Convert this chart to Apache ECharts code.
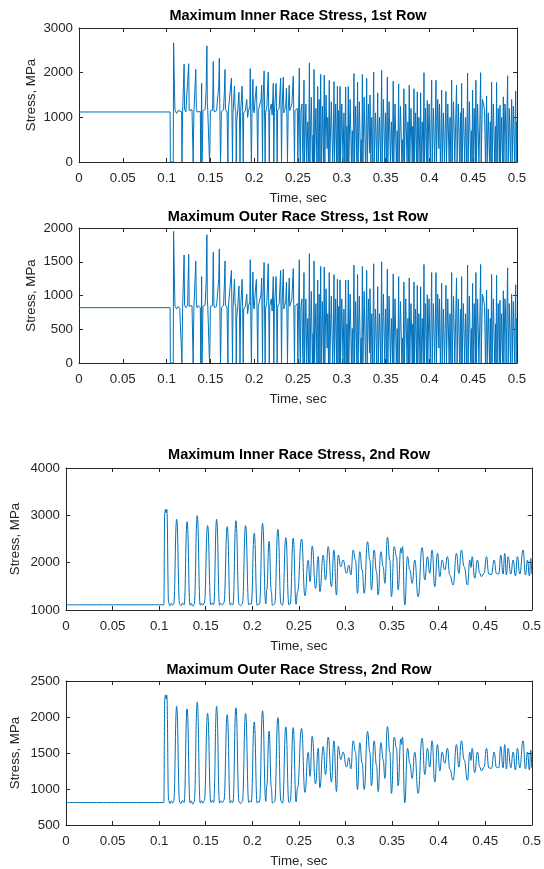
<!DOCTYPE html>
<html>
<head>
<meta charset="utf-8">
<script src="https://cdn.jsdelivr.net/npm/echarts@6/dist/echarts.min.js"></script>
<style>
  html, body { margin: 0; padding: 0; background: #ffffff; }
  #chart { width: 544px; height: 869px; }
</style>
</head>
<body>
<div id="chart"></div>
<script>
// Panel titles and axis ranges
const panelTitles = [
  'Maximum Inner Race Stress, 1st Row',
  'Maximum Outer Race Stress, 1st Row',
  'Maximum Inner Race Stress, 2nd Row',
  'Maximum Outer Race Stress, 2nd Row'
];
const yRanges = [[0, 3000, 1000], [0, 2000, 500], [1000, 4000, 1000], [500, 2500, 500]];
const timeRange = [0, 0.5, 0.05];

// 1st row, inner race: [time s, stress MPa]
const row1Inner = [
  [0,1120],[0.1040,1120],[0.1043,0],[0.1076,0],[0.1080,2670],[0.1084,2250],[0.1090,1600],[0.1096,1150],
  [0.1105,1180],[0.1115,1090],[0.1130,1150],[0.1150,1110],[0.1172,1130],[0.1175,0],[0.1180,0],[0.1183,1130],
  [0.1195,1150],[0.1200,2190],[0.1205,1180],[0.1220,1120],[0.1240,1160],[0.1252,2200],[0.1258,1150],[0.1275,1130],
  [0.1290,1170],[0.1300,1140],[0.1303,0],[0.1308,0],[0.1312,1120],[0.1322,1150],[0.1333,2070],[0.1340,1200],
  [0.1348,1120],[0.1360,1160],[0.1385,1130],[0.1390,0],[0.1395,600],[0.1400,1760],[0.1404,0],[0.1410,500],
  [0.1415,1150],[0.1440,1180],[0.1452,1650],[0.1460,2600],[0.1465,1300],[0.1470,1150],[0.1485,1120],[0.1490,0],
  [0.1495,400],[0.1500,1150],[0.1525,1160],[0.1533,2250],[0.1540,1200],[0.1545,1120],[0.1570,1150],[0.1590,1140],
  [0.1595,1700],[0.1602,2320],[0.1608,1150],[0.1615,0],[0.1620,350],[0.1625,1130],[0.1650,1170],[0.1660,1600],
  [0.1667,2070],[0.1672,1180],[0.1690,1120],[0.1700,0],[0.1705,1140],[0.1725,1160],[0.1740,1880],[0.1745,1200],
  [0.1752,0],[0.1758,1100],[0.1775,1700],[0.1782,1200],[0.1790,1130],[0.1795,0],[0.1800,900],[0.1812,1150],
  [0.1826,1560],[0.1832,1000],[0.1838,0],[0.1845,1100],[0.1862,1700],[0.1868,1150],[0.1875,0],[0.1880,1100],
  [0.1900,1150],[0.1915,1400],[0.1925,1000],[0.1935,1150],[0.1950,1250],[0.1955,2090],[0.1962,800],[0.1968,0],
  [0.1975,1100],[0.1985,1850],[0.1992,1150],[0.2000,1100],[0.2010,1400],[0.2025,1700],[0.2032,1100],[0.2040,0],
  [0.2047,1150],[0.2065,1150],[0.2078,1400],[0.2085,1720],[0.2090,1000],[0.2095,0],[0.2100,1300],[0.2113,2040],
  [0.2118,1200],[0.2125,0],[0.2130,1100],[0.2145,1250],[0.2160,2010],[0.2166,1100],[0.2172,0],[0.2178,1150],
  [0.2195,1300],[0.2205,1050],[0.2218,1760],[0.2224,0],[0.2230,1100],[0.2250,1760],[0.2256,1100],[0.2262,0],
  [0.2268,1150],[0.2285,1200],[0.2302,1880],[0.2307,1000],[0.2312,0],[0.2318,1150],[0.2332,1900],[0.2338,1100],
  [0.2345,1150],[0.2360,1250],[0.2368,1650],[0.2374,900],[0.2380,0],[0.2388,1150],[0.2400,1720],[0.2406,1150],
  [0.2420,1130],[0.2430,1300],[0.2446,1920],[0.2452,1100],[0.2460,0],[0.2466,1150],[0.2480,1140],[0.2492,1200],
  [0.2498,0],[0.2504,800],[0.2515,2100],[0.2520,500],[0.2526,0],[0.2534,1150],[0.2545,1300],[0.2552,300],[0.2558,0],
  [0.2568,1830],[0.2574,0],[0.2590,1300],[0.2600,0],[0.2612,900],[0.2622,0],
  [0.2630,2220],[0.2636,0],[0.2652,1450],[0.2664,0],[0.2672,600],[0.2677,0],
  [0.2683,2070],[0.2689,0],[0.2704,1200],[0.2716,0],
  [0.2725,1690],[0.2731,0],[0.2742,1400],[0.2750,0],
  [0.2759,1960],[0.2765,0],[0.2778,1250],[0.2790,0],
  [0.2800,1945],[0.2806,0],[0.2820,1500],[0.2832,300],[0.2840,1000],[0.2848,0],
  [0.2857,1830],[0.2863,0],[0.2880,1350],[0.2896,0],[0.2903,500],
  [0.2911,1800],[0.2917,0],[0.2930,1300],[0.2942,0],
  [0.2950,1700],[0.2956,0],[0.2965,1150],[0.2972,0],
  [0.2980,1690],[0.2986,0],[0.3000,1300],[0.3014,0],[0.3024,1100],[0.3034,0],
  [0.3044,1680],[0.3050,0],[0.3058,800],[0.3066,0],
  [0.3074,1690],[0.3080,0],[0.3095,1400],[0.3110,0],[0.3120,700],[0.3128,0],
  [0.3139,1980],[0.3145,0],[0.3158,1250],[0.3172,0],
  [0.3180,1790],[0.3186,0],[0.3200,1350],[0.3214,0],[0.3222,500],[0.3228,0],
  [0.3235,1960],[0.3241,0],[0.3255,1450],[0.3270,0],[0.3276,400],
  [0.3284,1870],[0.3290,0],[0.3304,1300],[0.3316,200],[0.3322,1500],[0.3332,0],[0.3342,1000],[0.3352,0],
  [0.3364,2010],[0.3370,0],[0.3384,1100],[0.3398,0],
  [0.3410,1550],[0.3416,0],[0.3430,1000],[0.3444,0],
  [0.3455,2050],[0.3461,0],[0.3475,1400],[0.3490,0],[0.3500,1100],[0.3510,0],
  [0.3520,1900],[0.3526,0],[0.3540,1350],[0.3555,0],[0.3566,900],[0.3578,0],
  [0.3587,1810],[0.3593,0],[0.3608,1300],[0.3622,0],[0.3632,700],[0.3640,0],
  [0.3649,1750],[0.3655,0],[0.3670,1250],[0.3685,0],[0.3694,500],[0.3700,0],
  [0.3709,1640],[0.3715,0],[0.3730,1300],[0.3745,0],[0.3755,900],[0.3762,0],
  [0.3770,1720],[0.3776,0],[0.3790,1200],[0.3804,0],[0.3810,800],[0.3816,0],
  [0.3824,1640],[0.3830,0],[0.3842,1100],[0.3855,0],
  [0.3862,1570],[0.3868,0],[0.3880,1000],[0.3893,0],
  [0.3900,1550],[0.3906,0],[0.3918,900],[0.3930,0],
  [0.3938,2000],[0.3944,0],[0.3956,1200],[0.3968,0],
  [0.3976,1380],[0.3982,0],[0.3996,1300],[0.4010,0],[0.4017,700],
  [0.4026,1830],[0.4032,0],[0.4046,1200],[0.4060,0],[0.4066,600],
  [0.4075,1830],[0.4081,0],[0.4095,1400],[0.4108,300],[0.4115,1300],[0.4125,0],[0.4132,500],
  [0.4140,1610],[0.4146,0],[0.4160,1100],[0.4172,0],[0.4180,700],
  [0.4189,1580],[0.4195,0],[0.4210,1300],[0.4225,0],[0.4235,1000],[0.4245,0],
  [0.4254,1830],[0.4260,0],[0.4275,1350],[0.4290,0],[0.4300,900],
  [0.4310,1720],[0.4316,0],[0.4330,1300],[0.4345,0],[0.4355,1100],[0.4362,0],
  [0.4368,1760],[0.4374,0],[0.4388,1200],[0.4403,0],[0.4413,1000],[0.4426,0],
  [0.4436,1990],[0.4442,0],[0.4456,1350],[0.4470,0],[0.4480,700],[0.4486,0],
  [0.4493,1610],[0.4499,0],[0.4511,1200],[0.4524,0],
  [0.4531,1830],[0.4537,0],[0.4550,1300],[0.4565,0],[0.4575,800],
  [0.4585,2000],[0.4591,0],[0.4605,1400],[0.4618,1300],[0.4630,1150],[0.4640,0],[0.4646,500],
  [0.4653,1480],[0.4659,0],[0.4672,1100],[0.4686,0],[0.4695,900],[0.4702,0],
  [0.4710,1790],[0.4716,0],[0.4730,1300],[0.4745,0],[0.4755,800],[0.4760,0],
  [0.4767,1780],[0.4773,0],[0.4786,1200],[0.4798,0],
  [0.4806,1270],[0.4812,0],[0.4824,1000],[0.4836,0],
  [0.4844,1460],[0.4850,0],[0.4862,1300],[0.4868,1150],[0.4876,0],[0.4884,900],
  [0.4893,1930],[0.4899,0],[0.4912,1200],[0.4925,0],[0.4932,700],
  [0.4939,1400],[0.4945,0],[0.4958,1250],[0.4972,0],[0.4978,800],
  [0.4985,1590],[0.4991,0],[0.4996,900],[0.5000,350]
];

// 1st row, outer race: [time s, stress MPa]
const row1Outer = [
  [0,820],[0.1040,820],[0.1043,0],[0.1076,0],[0.1080,1950],[0.1084,1640],[0.1090,1170],[0.1096,840],
  [0.1105,860],[0.1115,800],[0.1130,840],[0.1150,810],[0.1172,820],[0.1175,0],[0.1180,0],[0.1183,820],
  [0.1195,840],[0.1200,1600],[0.1205,860],[0.1220,820],[0.1240,850],[0.1252,1610],[0.1258,840],[0.1275,820],
  [0.1290,850],[0.1300,830],[0.1303,0],[0.1308,0],[0.1312,820],[0.1322,840],[0.1333,1510],[0.1340,880],
  [0.1348,820],[0.1360,850],[0.1385,820],[0.1390,0],[0.1395,440],[0.1400,1280],[0.1404,0],[0.1410,370],
  [0.1415,840],[0.1440,860],[0.1452,1200],[0.1460,1900],[0.1465,950],[0.1470,840],[0.1485,820],[0.1490,0],
  [0.1495,290],[0.1500,840],[0.1525,850],[0.1533,1640],[0.1540,880],[0.1545,820],[0.1570,840],[0.1590,830],
  [0.1595,1240],[0.1602,1690],[0.1608,840],[0.1615,0],[0.1620,260],[0.1625,820],[0.1650,850],[0.1660,1170],
  [0.1667,1510],[0.1672,860],[0.1690,820],[0.1700,0],[0.1705,830],[0.1725,850],[0.1740,1370],[0.1745,880],
  [0.1752,0],[0.1758,800],[0.1775,1240],[0.1782,880],[0.1790,820],[0.1795,0],[0.1800,660],[0.1812,840],
  [0.1826,1140],[0.1832,730],[0.1838,0],[0.1845,800],[0.1862,1240],[0.1868,840],[0.1875,0],[0.1880,800],
  [0.1900,840],[0.1915,1020],[0.1925,730],[0.1935,840],[0.1950,910],[0.1955,1530],[0.1962,580],[0.1968,0],
  [0.1975,800],[0.1985,1350],[0.1992,840],[0.2000,800],[0.2010,1020],[0.2025,1240],[0.2032,800],[0.2040,0],
  [0.2047,840],[0.2065,840],[0.2078,1020],[0.2085,1260],[0.2090,730],[0.2095,0],[0.2100,950],[0.2113,1490],
  [0.2118,880],[0.2125,0],[0.2130,800],[0.2145,910],[0.2160,1470],[0.2166,800],[0.2172,0],[0.2178,840],
  [0.2195,950],[0.2205,770],[0.2218,1280],[0.2224,0],[0.2230,800],[0.2250,1280],[0.2256,800],[0.2262,0],
  [0.2268,840],[0.2285,880],[0.2302,1370],[0.2307,730],[0.2312,0],[0.2318,840],[0.2332,1390],[0.2338,800],
  [0.2345,840],[0.2360,910],[0.2368,1200],[0.2374,660],[0.2380,0],[0.2388,840],[0.2400,1260],[0.2406,840],
  [0.2420,820],[0.2430,950],[0.2446,1400],[0.2452,800],[0.2460,0],[0.2466,840],[0.2480,830],[0.2492,880],
  [0.2498,0],[0.2504,580],[0.2515,1530],[0.2520,370],[0.2526,0],[0.2534,840],[0.2545,950],[0.2552,220],[0.2558,0],
  [0.2568,1340],[0.2574,0],[0.2590,950],[0.2600,0],[0.2612,660],[0.2622,0],
  [0.2630,1620],[0.2636,0],[0.2652,1060],[0.2664,0],[0.2672,440],[0.2677,0],
  [0.2683,1510],[0.2689,0],[0.2704,880],[0.2716,0],
  [0.2725,1230],[0.2731,0],[0.2742,1020],[0.2750,0],
  [0.2759,1430],[0.2765,0],[0.2778,910],[0.2790,0],
  [0.2800,1420],[0.2806,0],[0.2820,1100],[0.2832,220],[0.2840,730],[0.2848,0],
  [0.2857,1340],[0.2863,0],[0.2880,990],[0.2896,0],[0.2903,370],
  [0.2911,1310],[0.2917,0],[0.2930,950],[0.2942,0],
  [0.2950,1240],[0.2956,0],[0.2965,840],[0.2972,0],
  [0.2980,1230],[0.2986,0],[0.3000,950],[0.3014,0],[0.3024,800],[0.3034,0],
  [0.3044,1230],[0.3050,0],[0.3058,580],[0.3066,0],
  [0.3074,1230],[0.3080,0],[0.3095,1020],[0.3110,0],[0.3120,510],[0.3128,0],
  [0.3139,1450],[0.3145,0],[0.3158,910],[0.3172,0],
  [0.3180,1310],[0.3186,0],[0.3200,990],[0.3214,0],[0.3222,370],[0.3228,0],
  [0.3235,1430],[0.3241,0],[0.3255,1060],[0.3270,0],[0.3276,290],
  [0.3284,1370],[0.3290,0],[0.3304,950],[0.3316,150],[0.3322,1100],[0.3332,0],[0.3342,730],[0.3352,0],
  [0.3364,1470],[0.3370,0],[0.3384,800],[0.3398,0],
  [0.3410,1130],[0.3416,0],[0.3430,730],[0.3444,0],
  [0.3455,1500],[0.3461,0],[0.3475,1020],[0.3490,0],[0.3500,800],[0.3510,0],
  [0.3520,1390],[0.3526,0],[0.3540,990],[0.3555,0],[0.3566,660],[0.3578,0],
  [0.3587,1320],[0.3593,0],[0.3608,950],[0.3622,0],[0.3632,510],[0.3640,0],
  [0.3649,1280],[0.3655,0],[0.3670,910],[0.3685,0],[0.3694,370],[0.3700,0],
  [0.3709,1200],[0.3715,0],[0.3730,950],[0.3745,0],[0.3755,660],[0.3762,0],
  [0.3770,1260],[0.3776,0],[0.3790,880],[0.3804,0],[0.3810,580],[0.3816,0],
  [0.3824,1200],[0.3830,0],[0.3842,800],[0.3855,0],
  [0.3862,1150],[0.3868,0],[0.3880,730],[0.3893,0],
  [0.3900,1130],[0.3906,0],[0.3918,660],[0.3930,0],
  [0.3938,1460],[0.3944,0],[0.3956,880],[0.3968,0],
  [0.3976,1010],[0.3982,0],[0.3996,950],[0.4010,0],[0.4017,510],
  [0.4026,1340],[0.4032,0],[0.4046,880],[0.4060,0],[0.4066,440],
  [0.4075,1340],[0.4081,0],[0.4095,1020],[0.4108,220],[0.4115,950],[0.4125,0],[0.4132,370],
  [0.4140,1180],[0.4146,0],[0.4160,800],[0.4172,0],[0.4180,510],
  [0.4189,1150],[0.4195,0],[0.4210,950],[0.4225,0],[0.4235,730],[0.4245,0],
  [0.4254,1340],[0.4260,0],[0.4275,990],[0.4290,0],[0.4300,660],
  [0.4310,1260],[0.4316,0],[0.4330,950],[0.4345,0],[0.4355,800],[0.4362,0],
  [0.4368,1280],[0.4374,0],[0.4388,880],[0.4403,0],[0.4413,730],[0.4426,0],
  [0.4436,1450],[0.4442,0],[0.4456,990],[0.4470,0],[0.4480,510],[0.4486,0],
  [0.4493,1180],[0.4499,0],[0.4511,880],[0.4524,0],
  [0.4531,1340],[0.4537,0],[0.4550,950],[0.4565,0],[0.4575,580],
  [0.4585,1460],[0.4591,0],[0.4605,1020],[0.4618,950],[0.4630,840],[0.4640,0],[0.4646,370],
  [0.4653,1080],[0.4659,0],[0.4672,800],[0.4686,0],[0.4695,660],[0.4702,0],
  [0.4710,1310],[0.4716,0],[0.4730,950],[0.4745,0],[0.4755,580],[0.4760,0],
  [0.4767,1300],[0.4773,0],[0.4786,880],[0.4798,0],
  [0.4806,930],[0.4812,0],[0.4824,730],[0.4836,0],
  [0.4844,1070],[0.4850,0],[0.4862,950],[0.4868,840],[0.4876,0],[0.4884,660],
  [0.4893,1410],[0.4899,0],[0.4912,880],[0.4925,0],[0.4932,510],
  [0.4939,1020],[0.4945,0],[0.4958,910],[0.4972,0],[0.4978,580],
  [0.4985,1160],[0.4991,0],[0.4996,660],[0.5000,260]
];

// 2nd row, inner race: [time s, stress MPa]
const row2Inner = [
  [0,1110],[0.1050,1110],[0.1060,3060],[0.1068,3130],[0.1075,3050],[0.1082,3125],[0.1102,1150],[0.1115,1090],
  [0.1130,1140],[0.1145,1100],[0.1156,1130],[0.1188,2915],[0.1220,1120],[0.1235,1090],[0.1250,1150],[0.1268,1110],
  [0.1300,2866],[0.1332,1100],[0.1345,1140],[0.1360,1080],[0.1376,1120],[0.1409,2993],[0.1441,1100],[0.1455,1140],
  [0.1470,1100],[0.1485,1150],[0.1520,2782],[0.1555,1110],[0.1570,1150],[0.1585,1110],[0.1617,2915],[0.1649,1100],
  [0.1662,1140],[0.1680,1110],[0.1695,1150],[0.1731,2760],[0.1763,1100],[0.1776,1140],[0.1792,1110],[0.1824,2887],
  [0.1858,1120],[0.1872,1090],[0.1893,1130],[0.1928,2782],[0.1962,1110],[0.1975,1140],[0.1988,1120],[0.2021,2620],
  [0.2052,1100],[0.2064,1130],[0.2077,1120],[0.2110,2831],[0.2145,1130],[0.2155,1420],[0.2180,2450],[0.2205,1380],
  [0.2215,1100],[0.2240,1130],[0.2275,2704],[0.2308,1130],[0.2325,1100],[0.2360,2528],[0.2393,1110],[0.2407,1130],
  [0.2439,2514],[0.2470,1120],[0.2485,1380],[0.2529,2500],[0.2565,1300],[0.2600,2050],[0.2620,1600],[0.2643,2352],
  [0.2679,1458],[0.2708,2127],[0.2725,1387],[0.2761,2160],[0.2786,1634],[0.2815,2338],[0.2850,1493],[0.2876,2267],
  [0.2904,1316],[0.2922,2162],[0.2950,1915],[0.2975,2056],[0.3011,1774],[0.3036,1950],[0.3058,1740],[0.3083,2267],
  [0.3108,2056],[0.3129,1352],[0.3154,2232],[0.3179,1845],[0.3201,1352],[0.3237,2443],[0.3262,2056],[0.3279,1422],
  [0.3308,2267],[0.3333,1810],[0.3351,1316],[0.3380,2232],[0.3405,1915],[0.3423,1563],[0.3451,2535],[0.3476,2056],
  [0.3494,1281],[0.3523,2338],[0.3548,2127],[0.3566,1422],[0.3594,2302],[0.3603,2200],[0.3612,2338],[0.3637,1105],
  [0.3666,2127],[0.3691,1845],[0.3716,1563],[0.3744,2056],[0.3780,1281],[0.3823,2317],[0.3852,1634],[0.3880,2127],
  [0.3905,1774],[0.3930,2267],[0.3959,1493],[0.3988,2197],[0.4013,1704],[0.4038,2056],[0.4066,1845],[0.4095,2127],
  [0.4120,1739],[0.4156,1528],[0.4192,2197],[0.4217,1774],[0.4245,2267],[0.4274,1915],[0.4310,1528],[0.4335,2056],
  [0.4348,1900],[0.4360,2127],[0.4388,1670],[0.4417,2056],[0.4442,1774],[0.4460,1704],[0.4488,1774],[0.4514,2127],
  [0.4539,1760],[0.4567,1750],[0.4596,2056],[0.4621,1770],[0.4646,1760],[0.4667,2162],[0.4692,1760],[0.4710,2197],
  [0.4728,1740],[0.4746,2127],[0.4775,1760],[0.4800,2056],[0.4825,1720],[0.4846,2127],[0.4871,1760],[0.4907,2267],
  [0.4932,1740],[0.4954,2056],[0.4975,1720],[0.4989,2090],[0.5000,1760]
];

// 2nd row, outer race: [time s, stress MPa]
const row2Outer = [
  [0,812],[0.1050,812],[0.1060,2256],[0.1068,2307],[0.1075,2248],[0.1082,2304],[0.1102,842],[0.1115,798],
  [0.1130,835],[0.1145,805],[0.1156,827],[0.1188,2148],[0.1220,820],[0.1235,798],[0.1250,842],[0.1268,812],
  [0.1300,2112],[0.1332,805],[0.1345,835],[0.1360,790],[0.1376,820],[0.1409,2206],[0.1441,805],[0.1455,835],
  [0.1470,805],[0.1485,842],[0.1520,2050],[0.1555,812],[0.1570,842],[0.1585,812],[0.1617,2148],[0.1649,805],
  [0.1662,835],[0.1680,812],[0.1695,842],[0.1731,2034],[0.1763,805],[0.1776,835],[0.1792,812],[0.1824,2128],
  [0.1858,820],[0.1872,798],[0.1893,827],[0.1928,2050],[0.1962,812],[0.1975,835],[0.1988,820],[0.2021,1930],
  [0.2052,805],[0.2064,827],[0.2077,820],[0.2110,2086],[0.2145,827],[0.2155,1042],[0.2180,1804],[0.2205,1012],
  [0.2215,805],[0.2240,827],[0.2275,1992],[0.2308,827],[0.2325,805],[0.2360,1862],[0.2393,812],[0.2407,827],
  [0.2439,1852],[0.2470,820],[0.2485,1012],[0.2529,1841],[0.2565,953],[0.2600,1508],[0.2620,1175],[0.2643,1732],
  [0.2679,1070],[0.2708,1565],[0.2725,1018],[0.2761,1590],[0.2786,1200],[0.2815,1721],[0.2850,1096],[0.2876,1669],
  [0.2904,965],[0.2922,1591],[0.2950,1408],[0.2975,1513],[0.3011,1304],[0.3036,1434],[0.3058,1279],[0.3083,1669],
  [0.3108,1513],[0.3129,992],[0.3154,1643],[0.3179,1357],[0.3201,992],[0.3237,1799],[0.3262,1513],[0.3279,1043],
  [0.3308,1669],[0.3333,1331],[0.3351,965],[0.3380,1643],[0.3405,1408],[0.3423,1148],[0.3451,1867],[0.3476,1513],
  [0.3494,939],[0.3523,1721],[0.3548,1565],[0.3566,1043],[0.3594,1695],[0.3603,1619],[0.3612,1721],[0.3637,809],
  [0.3666,1565],[0.3691,1357],[0.3716,1148],[0.3744,1513],[0.3780,939],[0.3823,1706],[0.3852,1200],[0.3880,1565],
  [0.3905,1304],[0.3930,1669],[0.3959,1096],[0.3988,1617],[0.4013,1252],[0.4038,1513],[0.4066,1357],[0.4095,1565],
  [0.4120,1278],[0.4156,1122],[0.4192,1617],[0.4217,1304],[0.4245,1669],[0.4274,1408],[0.4310,1122],[0.4335,1513],
  [0.4348,1397],[0.4360,1565],[0.4388,1227],[0.4417,1513],[0.4442,1304],[0.4460,1252],[0.4488,1304],[0.4514,1565],
  [0.4539,1294],[0.4567,1286],[0.4596,1513],[0.4621,1301],[0.4646,1294],[0.4667,1591],[0.4692,1294],[0.4710,1617],
  [0.4728,1279],[0.4746,1565],[0.4775,1294],[0.4800,1513],[0.4825,1264],[0.4846,1565],[0.4871,1294],[0.4907,1669],
  [0.4932,1279],[0.4954,1513],[0.4975,1264],[0.4989,1538],[0.5000,1294]
];

// Plot-area boxes (px) for the four stacked panels
const panels = [
  { left: 79, top: 28, width: 438, height: 134, yNameGap: 41, titleTop: 8 },
  { left: 79, top: 228, width: 438, height: 135, yNameGap: 41, titleTop: 209 },
  { left: 66, top: 468, width: 466, height: 142, yNameGap: 44, titleTop: 447 },
  { left: 66, top: 681, width: 466, height: 144, yNameGap: 44, titleTop: 662 }
];
const seriesData = [row1Inner, row1Outer, row2Inner, row2Outer];
const smoothPanels = [false, false, true, true];

const FONT = '"Liberation Sans", Arial, Helvetica, sans-serif';
const AXIS_COLOR = '#262626';
const LINE_COLOR = '#0072BD';

const axisLine = { show: true, onZero: false, lineStyle: { color: AXIS_COLOR, width: 1 } };
const axisTick = { show: true, inside: true, length: 4, lineStyle: { color: AXIS_COLOR, width: 1 } };

const option = {
  animation: false,
  backgroundColor: '#ffffff',
  title: [],
  grid: [],
  xAxis: [],
  yAxis: [],
  series: []
};

panels.forEach((p, i) => {
  const [ymin, ymax, ystep] = yRanges[i];
  option.grid.push({ left: p.left, top: p.top, width: p.width, height: p.height, containLabel: false });
  option.title.push({
    text: panelTitles[i],
    left: p.left + p.width / 2,
    top: p.titleTop,
    textAlign: 'center',
    padding: 0,
    textStyle: { fontFamily: FONT, fontSize: 14.5, fontWeight: 'bold', color: '#000000', lineHeight: 16 }
  });
  // bottom (labelled) and top (mirrored ticks) time axes
  option.xAxis.push({
    gridIndex: i, type: 'value', position: 'bottom',
    min: timeRange[0], max: timeRange[1], interval: timeRange[2],
    axisLine, axisTick, splitLine: { show: false },
    axisLabel: {
      margin: 10, fontFamily: FONT, fontSize: 13.3, color: AXIS_COLOR,
      formatter: v => String(Math.round(v * 100) / 100)
    },
    name: 'Time, sec', nameLocation: 'middle', nameGap: 30,
    nameTextStyle: { fontFamily: FONT, fontSize: 13.3, color: AXIS_COLOR }
  });
  option.xAxis.push({
    gridIndex: i, type: 'value', position: 'top',
    min: timeRange[0], max: timeRange[1], interval: timeRange[2],
    axisLine, axisTick, splitLine: { show: false }, axisLabel: { show: false }
  });
  // left (labelled) and right (mirrored ticks) stress axes
  option.yAxis.push({
    gridIndex: i, type: 'value', position: 'left',
    min: ymin, max: ymax, interval: ystep,
    axisLine, axisTick, splitLine: { show: false },
    axisLabel: { margin: 6, fontFamily: FONT, fontSize: 13.3, color: AXIS_COLOR, formatter: v => String(v) },
    name: 'Stress, MPa', nameLocation: 'middle', nameGap: p.yNameGap, nameMoveOverlap: false,
    nameTextStyle: { fontFamily: FONT, fontSize: 13.3, color: AXIS_COLOR }
  });
  option.yAxis.push({
    gridIndex: i, type: 'value', position: 'right',
    min: ymin, max: ymax, interval: ystep,
    axisLine, axisTick, splitLine: { show: false }, axisLabel: { show: false }
  });
  option.series.push({
    type: 'line',
    xAxisIndex: 2 * i,
    yAxisIndex: 2 * i,
    data: seriesData[i],
    showSymbol: false,
    symbol: 'none',
    smooth: smoothPanels[i] ? 0.5 : false,
    smoothMonotone: smoothPanels[i] ? 'x' : undefined,
    progressive: 0,
    silent: true,
    lineStyle: { color: LINE_COLOR, width: 1 }
  });
});

const chart = echarts.init(document.getElementById('chart'), null, { renderer: 'canvas' });
chart.setOption(option);
</script>
</body>
</html>
